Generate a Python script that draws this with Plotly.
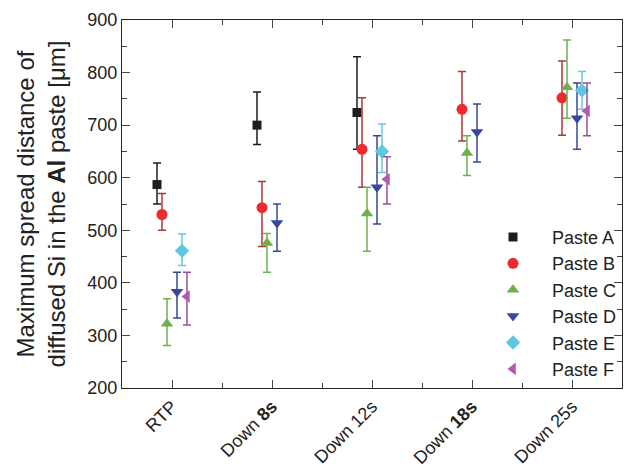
import plotly.graph_objects as go

categories = ["RTP", "Down <b>8s</b>", "Down 12s", "Down <b>18s</b>", "Down 25s"]
series_names = ["Paste A", "Paste B", "Paste C", "Paste D", "Paste E", "Paste F"]
y_ticks = [200, 300, 400, 500, 600, 700, 800, 900]

paste_a = [587, 700, 724, None, None]
paste_a_hi = [628, 763, 830, None, None]
paste_a_lo = [550, 663, 654, None, None]

paste_b = [530, 543, 654, 730, 752]
paste_b_hi = [570, 593, 752, 802, 822]
paste_b_lo = [500, 469, 582, 670, 681]

paste_c = [322, 476, 532, 647, 772]
paste_c_hi = [370, 494, 582, 680, 862]
paste_c_lo = [281, 420, 460, 604, 713]

paste_d = [383, 514, 582, 687, 713]
paste_d_hi = [420, 550, 680, 740, 780]
paste_d_lo = [333, 460, 512, 630, 654]

paste_e = [461, None, 650, None, 766]
paste_e_hi = [493, None, 702, None, 802]
paste_e_lo = [433, None, 610, None, 730]

paste_f = [374, None, 597, None, 727]
paste_f_hi = [420, None, 640, None, 780]
paste_f_lo = [320, None, 550, None, 680]

values = [paste_a, paste_b, paste_c, paste_d, paste_e, paste_f]
highs = [paste_a_hi, paste_b_hi, paste_c_hi, paste_d_hi, paste_e_hi, paste_f_hi]
lows = [paste_a_lo, paste_b_lo, paste_c_lo, paste_d_lo, paste_e_lo, paste_f_lo]

offsets = [-0.15, -0.10, -0.05, 0.05, 0.10, 0.15]
symbols = ["square", "circle", "triangle-up", "triangle-down", "diamond", "triangle-left"]
colors = ["#1e1e1e", "#ee2a2e", "#6cb14c", "#34489c", "#5ec8e0", "#b25ab2"]
err_colors = ["#1e1e1e", "#b0363a", "#6cb14c", "#34489c", "#6cc6dc", "#9a4f9a"]
sizes = [9, 11, 11, 11, 11, 11]

fig = go.Figure()
for k in range(6):
    xs, ys, ep, em = [], [], [], []
    for i in range(len(categories)):
        v = values[k][i]
        if v is None:
            continue
        xs.append(i + offsets[k])
        ys.append(v)
        ep.append(highs[k][i] - v)
        em.append(v - lows[k][i])
    fig.add_trace(go.Scatter(
        x=xs, y=ys, mode="markers", name=series_names[k],
        marker=dict(symbol=symbols[k], color=colors[k], size=sizes[k], line=dict(width=0)),
        error_y=dict(type="data", symmetric=False, array=ep, arrayminus=em,
                     color=err_colors[k], thickness=1.5, width=4),
    ))

font = "Liberation Sans, Arial, sans-serif"
fig.update_layout(
    template="simple_white",
    width=634, height=472,
    margin=dict(l=114, r=20, t=12, b=90),
    font=dict(family=font, color="#222222", size=18),
    showlegend=True,
    legend=dict(x=1.0, y=0.46, xanchor="right", yanchor="top",
                bgcolor="rgba(0,0,0,0)", font=dict(size=18, color="#222222"),
                itemwidth=68),
    xaxis=dict(
        range=[-0.5, 4.5], tickmode="array", tickvals=list(range(5)), ticktext=categories,
        tickangle=-45, ticks="inside", ticklen=8,
        showline=True, mirror="ticks",
        tickfont=dict(size=18), automargin="bottom",
        minor=dict(ticks="inside", dtick=0.5, ticklen=5),
    ),
    yaxis=dict(
        range=[200, 900], tickmode="array", tickvals=y_ticks,
        ticks="inside", ticklen=8,
        showline=True, mirror="ticks",
        tickfont=dict(size=18), automargin="left",
        minor=dict(ticks="inside", dtick=50, ticklen=5),
        title=dict(text="Maximum spread distance of<br>diffused Si in the <b>Al</b> paste [μm]",
                   font=dict(size=24), standoff=14),
    ),
)

fig.write_html("out.html")
